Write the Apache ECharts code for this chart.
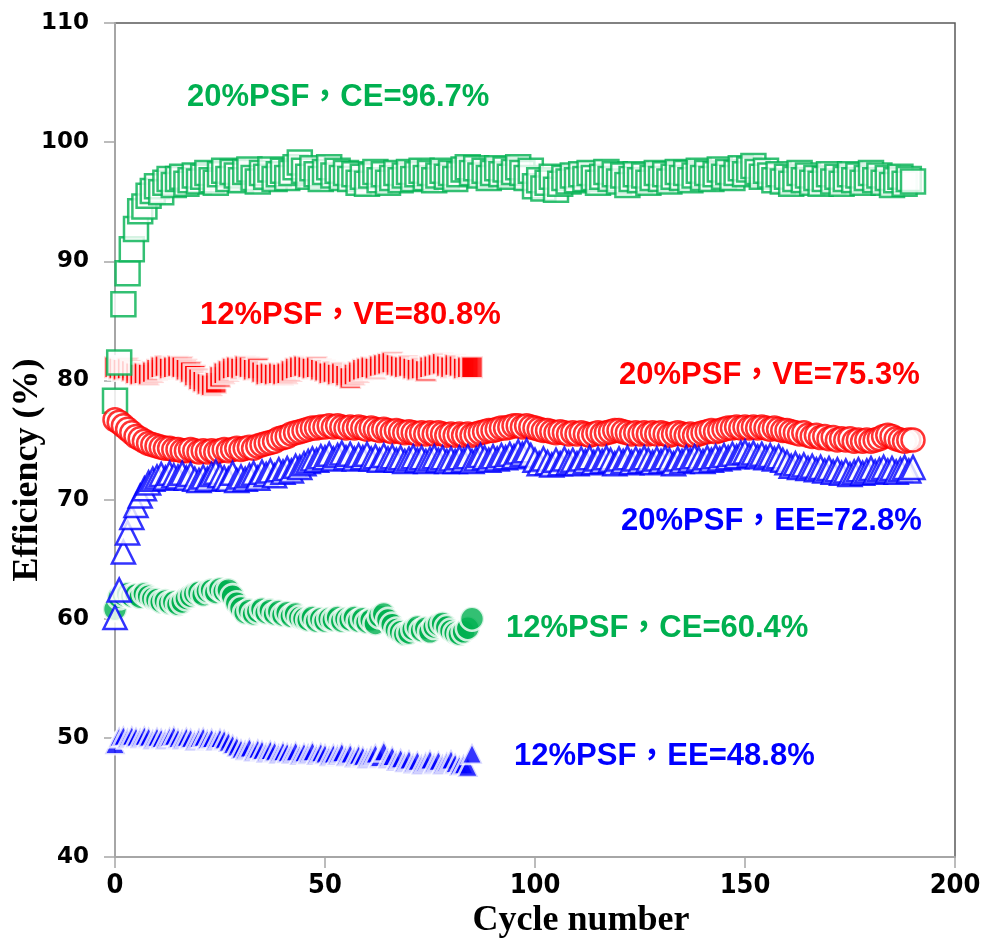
<!DOCTYPE html>
<html>
<head>
<meta charset="utf-8">
<script src="https://cdn.jsdelivr.net/npm/echarts@6/dist/echarts.min.js"></script>
<style>
  html, body { margin: 0; padding: 0; background: #fff; }
  #chart { width: 981px; height: 940px; }
</style>
</head>
<body>
<div id="chart"></div>
<script>
// efficiency (%) per cycle, index = cycle number
const ce20 = [
  78.3, 81.5, 86.4, 89.0, 91.0, 92.7, 94.2, 94.6, 95.5, 95.9,
  96.3, 95.8, 96.6, 96.9, 96.4, 96.9, 97.1, 96.5, 96.8, 97.2,
  96.7, 97.1, 97.4, 96.8, 96.6, 97.3, 97.6, 96.9, 97.5, 97.2,
  96.8, 97.5, 97.7, 97.0, 96.7, 97.4, 97.1, 97.7, 96.9, 97.3,
  97.6, 97.0, 97.4, 97.9, 98.3, 97.6, 97.1, 97.8, 97.3, 96.9,
  97.5, 97.9, 97.2, 97.6, 97.0, 97.4, 96.9, 97.3, 96.6, 97.1,
  96.5, 97.2, 97.5, 96.8, 97.3, 96.6, 97.0, 97.4, 96.8, 97.2,
  97.5, 96.9, 97.3, 97.6, 97.0, 97.4, 96.8, 97.2, 97.6, 97.1,
  97.4, 96.9, 97.3, 97.7, 97.9, 97.4, 97.8, 97.2, 97.6, 97.0,
  97.4, 97.8, 97.3, 97.7, 97.1, 97.5, 97.9, 97.4, 97.0, 97.6,
  96.3, 96.8, 96.1, 96.6, 97.1, 96.0, 96.5, 97.0, 96.7, 97.2,
  96.8, 97.3, 96.9, 97.4, 97.0, 96.6, 97.1, 97.5, 96.9, 97.3,
  96.7, 97.2, 96.4, 96.9, 97.3, 96.8, 97.2, 96.6, 97.0, 97.4,
  96.9, 97.3, 96.7, 97.1, 97.5, 97.0, 97.4, 96.8, 97.2, 97.6,
  97.0, 97.4, 96.9, 97.3, 97.7, 97.1, 97.5, 97.0, 97.4, 97.8,
  97.3, 97.7, 98.0, 97.5, 97.1, 97.6, 97.2, 96.8, 97.3, 96.7,
  97.1, 96.5, 96.9, 97.4, 96.8, 97.2, 96.6, 97.0, 96.5, 96.9,
  97.3, 96.7, 97.1, 96.5, 96.9, 97.3, 96.8, 97.2, 96.6, 97.0,
  97.4, 96.8, 97.2, 96.6, 97.0, 96.4, 96.8, 97.1, 96.5, 96.9,
  96.7
];
const ve20 = [
  76.7, 76.5, 76.2, 75.9, 75.6, 75.3, 75.1, 74.9, 74.7, 74.6,
  74.5, 74.4, 74.3, 74.3, 74.2, 74.2, 74.1, 74.1, 74.2, 74.1,
  74.0, 74.1, 74.0, 74.1, 74.0, 74.1, 74.2, 74.1, 74.2, 74.3,
  74.2, 74.3, 74.4, 74.3, 74.5, 74.6, 74.7, 74.8, 74.9, 75.1,
  75.2, 75.3, 75.5, 75.6, 75.7, 75.8, 75.9, 76.0, 76.0, 76.1,
  76.1, 76.2, 76.1, 76.2, 76.1, 76.0, 76.1, 76.0, 76.1, 76.0,
  75.9, 76.0, 75.9, 75.8, 75.9, 75.8, 75.7, 75.8, 75.7, 75.6,
  75.7, 75.6, 75.5, 75.6, 75.5, 75.6, 75.5, 75.6, 75.5, 75.4,
  75.5, 75.4, 75.5, 75.4, 75.5, 75.4, 75.5, 75.6, 75.7, 75.8,
  75.8, 75.9, 76.0, 76.0, 76.1, 76.2, 76.2, 76.1, 76.2, 76.1,
  76.0, 75.9, 75.8, 75.8, 75.7, 75.6, 75.7, 75.6, 75.5, 75.6,
  75.5, 75.6, 75.5, 75.4, 75.5, 75.6, 75.5, 75.6, 75.7, 75.8,
  75.8, 75.7, 75.6, 75.5, 75.6, 75.5, 75.6, 75.5, 75.6, 75.5,
  75.6, 75.5, 75.4, 75.5, 75.6, 75.5, 75.4, 75.5, 75.4, 75.5,
  75.6, 75.7, 75.8, 75.7, 75.8, 75.9, 76.0, 76.0, 76.1, 76.0,
  76.1, 76.0, 76.1, 76.0, 76.1, 76.0, 75.9, 76.0, 75.9, 75.8,
  75.8, 75.7, 75.6, 75.5, 75.6, 75.4, 75.3, 75.4, 75.2, 75.3,
  75.1, 75.2, 75.0, 75.1, 75.0, 75.1, 74.9, 75.0, 74.9, 75.0,
  74.9, 75.0, 75.1, 75.3, 75.4, 75.3, 75.1, 75.0, 74.9, 75.0,
  75.0
];
const ee20 = [
  60.1, 62.4, 65.6, 67.2, 68.5, 69.5, 70.3, 70.9, 71.4, 71.7,
  71.9, 72.1, 71.8, 72.2, 72.0, 71.9, 72.2, 71.8, 72.1, 71.7,
  71.6, 71.9, 71.7, 72.1, 72.3, 72.0, 71.8, 71.7, 72.2, 71.6,
  71.9, 71.7, 72.0, 72.2, 71.8, 72.3, 72.1, 72.4, 72.0, 72.5,
  72.3, 72.6, 72.4, 72.8, 72.7, 73.0, 73.2, 73.4, 73.3, 73.6,
  73.5, 73.8, 73.4, 73.7, 73.9, 73.5, 73.8, 73.4, 73.7, 73.5,
  73.8, 73.4, 73.6, 73.3, 73.7, 73.4, 73.6, 73.3, 73.5, 73.2,
  73.4, 73.6, 73.3, 73.5, 73.2, 73.4, 73.6, 73.3, 73.5, 73.2,
  73.4, 73.2, 73.5, 73.3, 73.6, 73.2, 73.4, 73.7, 73.5, 73.3,
  73.6, 73.4, 73.7, 73.5, 73.8, 73.6, 74.0, 73.8, 74.1, 73.7,
  73.3, 73.0, 73.4, 73.1, 72.9, 73.3, 73.0, 73.4, 73.1, 73.3,
  73.0, 73.4, 73.2, 73.5, 73.1, 73.4, 73.2, 73.5, 73.3, 73.0,
  73.4, 73.2, 73.5, 73.1, 73.4, 73.2, 73.5, 73.3, 73.1, 73.4,
  73.2, 73.5, 73.3, 73.0, 73.4, 73.2, 73.5, 73.3, 73.6, 73.4,
  73.2, 73.5, 73.3, 73.6, 73.4, 73.7, 73.5, 73.8, 73.6, 73.9,
  74.0, 73.7, 73.9, 73.6, 73.8, 73.5, 73.7, 73.4, 73.6, 73.3,
  73.1, 72.8, 73.0, 72.7, 72.9, 72.6, 72.8, 72.5, 72.7, 72.4,
  72.6, 72.3, 72.5, 72.2, 72.4, 72.1, 72.3, 72.5, 72.2, 72.4,
  72.6, 72.3, 72.5, 72.7, 72.4, 72.6, 72.3, 72.5, 72.7, 72.4,
  72.7
];
const ve12 = [
  81.1, 81.0, 80.9, 81.0, 80.8, 80.6, 80.5, 80.6, 80.5, 80.7,
  80.9, 81.1, 81.2, 81.0, 81.1, 81.2, 81.1, 80.9, 80.7, 80.4,
  80.1, 79.9, 79.7, 79.6, 79.8, 80.3, 80.6, 80.8, 81.0, 81.1,
  81.0, 81.2, 81.1, 80.9, 81.0, 80.7, 80.5, 80.6, 80.5, 80.6,
  80.5, 80.6, 80.8, 81.0, 81.1, 81.2, 81.1, 81.0, 81.1, 80.9,
  80.8, 80.6, 80.7, 80.5, 80.6, 80.4, 80.2, 80.5, 80.7, 80.9,
  81.0, 81.1, 81.0, 81.2, 81.3, 81.4, 81.5, 81.3, 81.2, 81.1,
  81.2, 81.0, 80.9, 81.0, 80.8, 81.1, 81.2, 81.3, 81.4, 81.2,
  81.1, 81.3, 81.2, 81.0, 81.1, 81.1
];
const ce12 = [
  60.8, 61.8, 62.0, 62.1, 61.9, 62.0, 61.8, 62.1, 61.9, 61.7,
  61.6, 61.4, 61.5, 61.3, 61.4, 61.2, 61.4, 61.7, 61.9, 62.1,
  62.2, 62.0, 62.3, 62.4, 62.2, 62.5, 62.3, 62.4, 61.9, 61.3,
  60.9, 60.5, 60.7, 60.4, 60.6, 60.8, 60.5, 60.7, 60.4, 60.6,
  60.3, 60.5, 60.2, 60.4, 60.1, 60.0, 59.9, 60.1, 59.8, 60.0,
  59.8, 60.0, 59.9, 60.1, 59.8, 60.0, 59.9, 60.1, 59.8, 60.0,
  59.7, 59.9, 59.6, 60.2, 60.4, 59.9, 59.5, 59.1, 58.9, 58.7,
  58.8, 59.1, 59.3, 59.0, 59.2, 58.9, 59.3, 59.5, 59.6, 59.3,
  59.0, 58.8, 58.7, 58.9, 59.2, 60.0
];
const ee12 = [
  49.5, 50.1, 50.2, 50.0, 50.2, 50.1, 50.0, 50.2, 50.1, 49.9,
  50.1, 50.0, 49.9, 50.1, 50.2, 50.0, 49.9, 50.1, 50.0, 49.8,
  50.0, 50.1, 49.9, 50.0, 49.8, 50.0, 49.9, 49.7, 49.5, 49.3,
  49.1, 49.0, 49.2, 48.9, 49.1, 49.0, 48.8, 49.0, 48.9, 48.7,
  48.9, 48.8, 48.7, 48.9, 48.6, 48.8, 48.7, 48.9, 48.6, 48.8,
  48.7, 48.5, 48.7, 48.6, 48.8, 48.5, 48.7, 48.4, 48.6, 48.5,
  48.3, 48.5, 48.7, 48.4, 48.9, 48.3, 48.5, 48.1, 48.3, 48.0,
  48.2, 47.9, 48.1, 47.8, 48.0, 48.2, 47.9, 48.1, 47.8, 48.0,
  48.2, 47.9, 47.7, 47.8, 47.6, 48.7
];

const xTicks = [0, 50, 100, 150, 200];
const yTicks = [40, 50, 60, 70, 80, 90, 100, 110];

const labels = [
  { text: '20%PSF，CE=96.7%', x: 187, y: 97, color: '#00B050' },
  { text: '12%PSF，VE=80.8%', x: 200, y: 315, color: '#FF0000' },
  { text: '20%PSF，VE=75.3%', x: 619, y: 375, color: '#FF0000' },
  { text: '20%PSF，EE=72.8%', x: 621, y: 521, color: '#0000FF' },
  { text: '12%PSF，CE=60.4%', x: 506, y: 628, color: '#00B050' },
  { text: '12%PSF，EE=48.8%', x: 514, y: 756, color: '#0000FF' }
];

const GREEN = '#00B050', RED = '#FF0000', BLUE = '#0000FF';

const toPoints = arr => arr.map((v, i) => [i, v]);

const filled = (name, arr, symbol, size, color) => ({
  name, type: 'scatter', data: toPoints(arr), symbol, symbolSize: size,
  itemStyle: { color, borderColor: '#fff', borderWidth: 2.6 },
  silent: true
});
const hollow = (name, arr, symbol, size, color) => ({
  name, type: 'scatter', data: toPoints(arr), symbol, symbolSize: size,
  itemStyle: { color: '#fff', borderColor: color, borderWidth: 2.5 },
  silent: true
});

const chart = echarts.init(document.getElementById('chart'), null, { renderer: 'canvas' });

chart.setOption({
  animation: false,
  backgroundColor: '#fff',
  grid: {
    left: 115, right: 26, top: 23, bottom: 83, containLabel: false, outerBoundsMode: 'none',
    show: true, borderColor: '#595959', borderWidth: 1.5
  },
  xAxis: {
    type: 'value', min: xTicks[0], max: xTicks[xTicks.length - 1], interval: 50,
    name: 'Cycle number', nameLocation: 'middle', nameGap: 46, nameMoveOverlap: false,
    nameTextStyle: { fontFamily: 'Liberation Serif', fontWeight: 'bold', fontSize: 36, color: '#000', padding: [0, 0, 0, 92] },
    axisLine: { lineStyle: { color: '#A6A6A6', width: 2 } },
    axisTick: { length: 11, lineStyle: { color: '#A6A6A6', width: 1.5 } },
    axisLabel: { fontFamily: "'Liberation Sans Narrow', 'DejaVu Sans Condensed', sans-serif", fontWeight: 'bold', fontSize: 27, color: '#000', margin: 15 },
    splitLine: { show: false }
  },
  yAxis: {
    type: 'value', min: yTicks[0], max: yTicks[yTicks.length - 1], interval: 10,
    name: 'Efficiency (%)', nameLocation: 'middle', nameGap: 69, nameRotate: 90, nameMoveOverlap: false,
    nameTextStyle: { fontFamily: 'Liberation Serif', fontWeight: 'bold', fontSize: 36, color: '#000', padding: [0, 60, 0, 0] },
    axisLine: { show: true, lineStyle: { color: '#A6A6A6', width: 2 } },
    axisTick: { show: true, length: 11, lineStyle: { color: '#A6A6A6', width: 1.5 } },
    axisLabel: { fontFamily: 'DejaVu Sans', fontWeight: 'bold', fontSize: 23, color: '#000', margin: 26 },
    splitLine: { show: false }
  },
  series: [
    filled('12%PSF EE', ee12, 'triangle', 21, BLUE),
    filled('12%PSF CE', ce12, 'circle', 24, GREEN),
    filled('12%PSF VE', ve12, 'rect', 22, RED),
    hollow('20%PSF CE', ce20, 'rect', 24, GREEN),
    hollow('20%PSF VE', ve20, 'circle', 23, RED),
    hollow('20%PSF EE', ee20, 'triangle', 23, BLUE)
  ],
  graphic: labels.map(l => ({
    type: 'text', x: l.x, y: l.y, z: 100, silent: true,
    style: {
      text: l.text, fill: l.color, verticalAlign: 'middle',
      font: "bold 31px 'Liberation Sans', 'Noto Sans CJK TC', sans-serif"
    }
  }))
});
</script>
</body>
</html>
